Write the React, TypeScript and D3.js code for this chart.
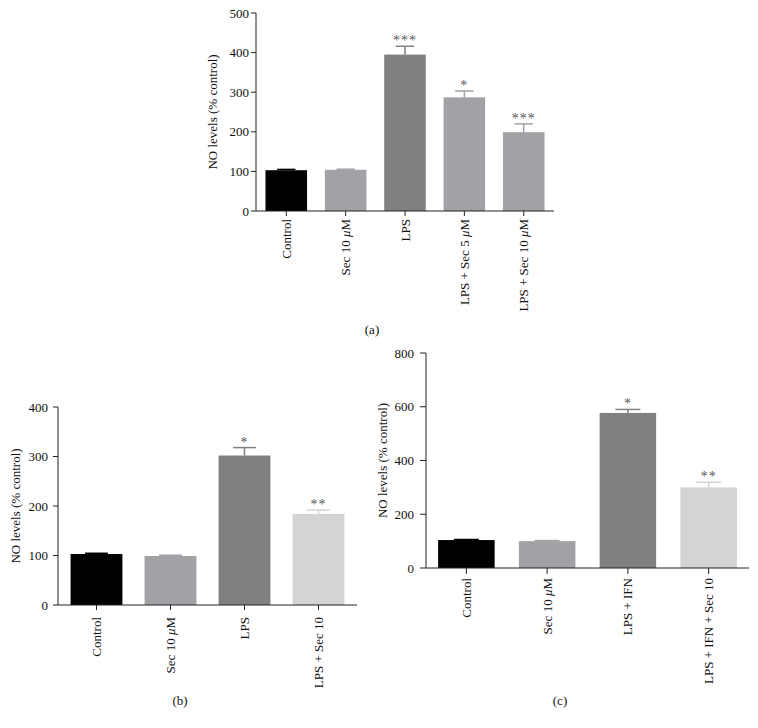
import React from 'react';
import * as d3 from 'd3';

// panel (a)
const catsA = ['Control', 'Sec 10 μM', 'LPS', 'LPS + Sec 5 μM', 'LPS + Sec 10 μM'];
const valsA = [103, 104, 395, 287, 199];
const errsA = [2, 1.5, 21, 16, 21];
const starsA = ['', '', '***', '*', '***'];
const colorsA = ['#000000', '#a1a1a6', '#808080', '#a1a1a6', '#a1a1a6'];
const ticksA = [0, 100, 200, 300, 400, 500];

// panel (b)
const catsB = ['Control', 'Sec 10 μM', 'LPS', 'LPS + Sec 10'];
const valsB = [103, 99, 302, 184];
const errsB = [1.5, 1.5, 16, 8];
const starsB = ['', '', '*', '**'];
const colorsB = ['#000000', '#a1a1a6', '#808080', '#d4d4d4'];
const ticksB = [0, 100, 200, 300, 400];

// panel (c)
const catsC = ['Control', 'Sec 10 μM', 'LPS + IFN', 'LPS + IFN + Sec 10'];
const valsC = [104, 100, 577, 300];
const errsC = [2, 2, 13, 19];
const starsC = ['', '', '*', '**'];
const colorsC = ['#000000', '#a1a1a6', '#808080', '#d4d4d4'];
const ticksC = [0, 200, 400, 600, 800];

type PanelProps = {
  cats: string[];
  vals: number[];
  errs: number[];
  stars: string[];
  colors: string[];
  ticks: number[];
  x0: number;
  x1: number;
  y0: number;
  y1: number;
  padOuter: number;
  fs: number;
  tickLen: number;
  labelGap: number;
  catGap: number;
  labelX: number;
  letter: string;
  letterX: number;
  letterY: number;
};

// render "μ" in italics like the original figure
function catLabel(c: string) {
  const parts = c.split('μ');
  return parts.map((s, i) => (
    <React.Fragment key={i}>
      {i > 0 && <tspan fontStyle="italic">μ</tspan>}
      {s}
    </React.Fragment>
  ));
}

function Panel(p: PanelProps) {
  const x = d3.scaleBand<string>().domain(p.cats).range([p.x0, p.x1]).paddingInner(0.3).paddingOuter(p.padOuter);
  const y = d3.scaleLinear().domain([0, p.ticks[p.ticks.length - 1]]).range([p.y1, p.y0]);
  const bw = x.bandwidth();
  const axisColor = '#222';
  return (
    <g fontFamily="'Liberation Serif', 'Times New Roman', serif" fill="#111">
      {p.cats.map((c, i) => {
        const cx = x(c)! + bw / 2;
        const top = y(p.vals[i]);
        const et = y(p.vals[i] + p.errs[i]);
        const cap = bw * 0.22;
        return (
          <g key={c}>
            <rect x={x(c)} y={top} width={bw} height={p.y1 - top} fill={p.colors[i]} />
            <line x1={cx} x2={cx} y1={top} y2={et} stroke={p.colors[i]} strokeWidth={1.5} />
            <line x1={cx - cap} x2={cx + cap} y1={et} y2={et} stroke={p.colors[i]} strokeWidth={1.5} />
            {p.stars[i] && (
              <text x={cx} y={et - 1} textAnchor="middle" fontSize={p.fs + 1} fill="#555" letterSpacing={1}>
                {p.stars[i]}
              </text>
            )}
            <line x1={cx} x2={cx} y1={p.y1} y2={p.y1 + p.tickLen} stroke={axisColor} />
            <text
              transform={`translate(${cx},${p.y1 + p.catGap}) rotate(-90)`}
              textAnchor="end"
              dy="0.35em"
              fontSize={p.fs}
            >
              {catLabel(c)}
            </text>
          </g>
        );
      })}
      <line x1={p.x0} x2={p.x1} y1={p.y1} y2={p.y1} stroke={axisColor} />
      <line x1={p.x0} x2={p.x0} y1={p.y0} y2={p.y1} stroke={axisColor} />
      {p.ticks.map(t => (
        <g key={t}>
          <line x1={p.x0 - p.tickLen} x2={p.x0} y1={y(t)} y2={y(t)} stroke={axisColor} />
          <text x={p.x0 - p.tickLen - p.labelGap} y={y(t)} dy="0.35em" textAnchor="end" fontSize={p.fs}>
            {t}
          </text>
        </g>
      ))}
      <text
        transform={`translate(${p.labelX},${(p.y0 + p.y1) / 2}) rotate(-90)`}
        textAnchor="middle"
        dy="0.35em"
        fontSize={p.fs}
      >
        NO levels (% control)
      </text>
      <text x={p.letterX} y={p.letterY} textAnchor="middle" fontSize={p.fs}>
        {p.letter}
      </text>
    </g>
  );
}

export default function App() {
  return (
    <div style={{ position: 'absolute', left: 0, top: 0 }}>
      <svg width={758} height={728} style={{ display: 'block', background: '#fff' }}>
        <Panel
          cats={catsA} vals={valsA} errs={errsA} stars={starsA} colors={colorsA} ticks={ticksA}
          x0={256} x1={554} y0={13} y1={211} padOuter={0.16} fs={13} tickLen={5} labelGap={2} catGap={8}
          labelX={212} letter="(a)" letterX={372} letterY={334}
        />
        <Panel
          cats={catsB} vals={valsB} errs={errsB} stars={starsB} colors={colorsB} ticks={ticksB}
          x0={58} x1={357} y0={407} y1={605} padOuter={0.17} fs={13} tickLen={5} labelGap={5} catGap={12}
          labelX={15} letter="(b)" letterX={180} letterY={705}
        />
        <Panel
          cats={catsC} vals={valsC} errs={errsC} stars={starsC} colors={colorsC} ticks={ticksC}
          x0={426} x1={749} y0={353} y1={568} padOuter={0.15} fs={13} tickLen={6} labelGap={6} catGap={10}
          labelX={382} letter="(c)" letterX={560} letterY={705}
        />
      </svg>
    </div>
  );
}
